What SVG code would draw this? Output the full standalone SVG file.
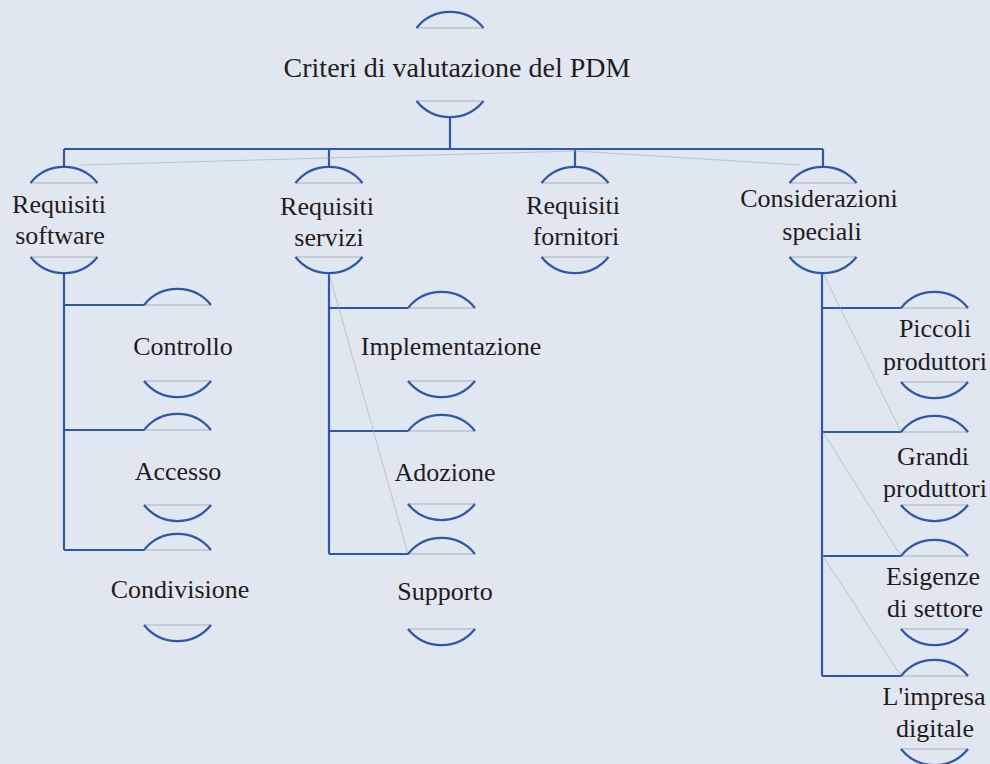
<svg xmlns="http://www.w3.org/2000/svg" width="990" height="764" viewBox="0 0 990 764">
<style>
.bg{fill:#e1e7f0}
.arc{fill:none;stroke:#2f58a6;stroke-width:2.2}
.chord{stroke:#a9b1bd;stroke-width:1}
.ln{fill:none;stroke:#2f58a6;stroke-width:2.2}
.faint{fill:none;stroke:#a4abb5;stroke-width:0.6}
text{font-family:"Liberation Serif","Times New Roman",serif;font-size:26px;fill:#1f1c1d;text-anchor:middle}
.root{font-size:28px}
</style>
<rect class="bg" width="990" height="764"/>
<g id="connectors">
<path class="ln" d="M450,118 V149 M64,149 H823 M64,149 V166 M329,149 V166 M575,149 V166 M823,149 V166"/>
<path class="ln" d="M64,273 V550 M64,305 H144 M64,430 H144 M64,550 H144"/>
<path class="ln" d="M329,273 V554 M329,308 H408 M329,431 H408 M329,554 H408"/>
<path class="ln" d="M822,273 V676 M822,308 H901 M822,432 H901 M822,556 H901 M822,676 H901"/>
<path class="faint" d="M80,165 L575,151 L800,165"/>
<path class="faint" d="M329,273 L408,554"/>
<path class="faint" d="M823,273 L901,432 M823,432 L901,556 M823,556 L901,676"/>
</g>
<g id="root">
<line class="chord" x1="416.5" y1="28" x2="483.5" y2="28"/>
<path class="arc" d="M416.5,28 A43,43 0 0 1 483.5,28"/>
<line class="chord" x1="416.5" y1="101" x2="483.5" y2="101"/>
<path class="arc" d="M416.5,101 A43,43 0 0 0 483.5,101"/>
<text class="root" x="457" y="77">Criteri di valutazione del PDM</text>
</g>
<g id="req-software">
<line class="chord" x1="30.5" y1="183" x2="97.5" y2="183"/>
<path class="arc" d="M30.5,183 A43,43 0 0 1 97.5,183"/>
<line class="chord" x1="30.5" y1="257" x2="97.5" y2="257"/>
<path class="arc" d="M30.5,257 A43,43 0 0 0 97.5,257"/>
<text x="59" y="213">Requisiti</text>
<text x="60" y="244">software</text>
</g>
<g id="req-servizi">
<line class="chord" x1="295.5" y1="183" x2="362.5" y2="183"/>
<path class="arc" d="M295.5,183 A43,43 0 0 1 362.5,183"/>
<line class="chord" x1="295.5" y1="257" x2="362.5" y2="257"/>
<path class="arc" d="M295.5,257 A43,43 0 0 0 362.5,257"/>
<text x="327" y="215">Requisiti</text>
<text x="329" y="246">servizi</text>
</g>
<g id="req-fornitori">
<line class="chord" x1="541.5" y1="183" x2="608.5" y2="183"/>
<path class="arc" d="M541.5,183 A43,43 0 0 1 608.5,183"/>
<line class="chord" x1="541.5" y1="257" x2="608.5" y2="257"/>
<path class="arc" d="M541.5,257 A43,43 0 0 0 608.5,257"/>
<text x="573" y="214">Requisiti</text>
<text x="576" y="245">fornitori</text>
</g>
<g id="considerazioni">
<line class="chord" x1="789.5" y1="183" x2="856.5" y2="183"/>
<path class="arc" d="M789.5,183 A43,43 0 0 1 856.5,183"/>
<line class="chord" x1="789.5" y1="257" x2="856.5" y2="257"/>
<path class="arc" d="M789.5,257 A43,43 0 0 0 856.5,257"/>
<text x="819" y="207">Considerazioni</text>
<text x="822" y="240">speciali</text>
</g>
<g id="controllo">
<line class="chord" x1="144" y1="305" x2="211" y2="305"/>
<path class="arc" d="M144,305 A43,43 0 0 1 211,305"/>
<line class="chord" x1="144" y1="381" x2="211" y2="381"/>
<path class="arc" d="M144,381 A43,43 0 0 0 211,381"/>
<text x="183" y="355">Controllo</text>
</g>
<g id="accesso">
<line class="chord" x1="144" y1="430" x2="211" y2="430"/>
<path class="arc" d="M144,430 A43,43 0 0 1 211,430"/>
<line class="chord" x1="144" y1="505" x2="211" y2="505"/>
<path class="arc" d="M144,505 A43,43 0 0 0 211,505"/>
<text x="178" y="480">Accesso</text>
</g>
<g id="condivisione">
<line class="chord" x1="144" y1="550" x2="211" y2="550"/>
<path class="arc" d="M144,550 A43,43 0 0 1 211,550"/>
<line class="chord" x1="144" y1="625" x2="211" y2="625"/>
<path class="arc" d="M144,625 A43,43 0 0 0 211,625"/>
<text x="180" y="598">Condivisione</text>
</g>
<g id="implementazione">
<line class="chord" x1="408" y1="308" x2="475" y2="308"/>
<path class="arc" d="M408,308 A43,43 0 0 1 475,308"/>
<line class="chord" x1="408" y1="381" x2="475" y2="381"/>
<path class="arc" d="M408,381 A43,43 0 0 0 475,381"/>
<text x="451" y="355">Implementazione</text>
</g>
<g id="adozione">
<line class="chord" x1="408" y1="431" x2="475" y2="431"/>
<path class="arc" d="M408,431 A43,43 0 0 1 475,431"/>
<line class="chord" x1="408" y1="504" x2="475" y2="504"/>
<path class="arc" d="M408,504 A43,43 0 0 0 475,504"/>
<text x="445" y="481">Adozione</text>
</g>
<g id="supporto">
<line class="chord" x1="408" y1="554" x2="475" y2="554"/>
<path class="arc" d="M408,554 A43,43 0 0 1 475,554"/>
<line class="chord" x1="408" y1="629" x2="475" y2="629"/>
<path class="arc" d="M408,629 A43,43 0 0 0 475,629"/>
<text x="445" y="600">Supporto</text>
</g>
<g id="piccoli">
<line class="chord" x1="901" y1="308" x2="968" y2="308"/>
<path class="arc" d="M901,308 A43,43 0 0 1 968,308"/>
<line class="chord" x1="901" y1="382" x2="968" y2="382"/>
<path class="arc" d="M901,382 A43,43 0 0 0 968,382"/>
<text x="935" y="337">Piccoli</text>
<text x="935" y="370">produttori</text>
</g>
<g id="grandi">
<line class="chord" x1="901" y1="432" x2="968" y2="432"/>
<path class="arc" d="M901,432 A43,43 0 0 1 968,432"/>
<line class="chord" x1="901" y1="505" x2="968" y2="505"/>
<path class="arc" d="M901,505 A43,43 0 0 0 968,505"/>
<text x="933" y="465">Grandi</text>
<text x="935" y="497">produttori</text>
</g>
<g id="esigenze">
<line class="chord" x1="901" y1="556" x2="968" y2="556"/>
<path class="arc" d="M901,556 A43,43 0 0 1 968,556"/>
<line class="chord" x1="901" y1="629" x2="968" y2="629"/>
<path class="arc" d="M901,629 A43,43 0 0 0 968,629"/>
<text x="933" y="585">Esigenze</text>
<text x="935" y="617">di settore</text>
</g>
<g id="impresa">
<line class="chord" x1="901" y1="676" x2="968" y2="676"/>
<path class="arc" d="M901,676 A43,43 0 0 1 968,676"/>
<line class="chord" x1="901" y1="749" x2="968" y2="749"/>
<path class="arc" d="M901,749 A43,43 0 0 0 968,749"/>
<text x="934" y="705">L'impresa</text>
<text x="935" y="737">digitale</text>
</g>
</svg>
